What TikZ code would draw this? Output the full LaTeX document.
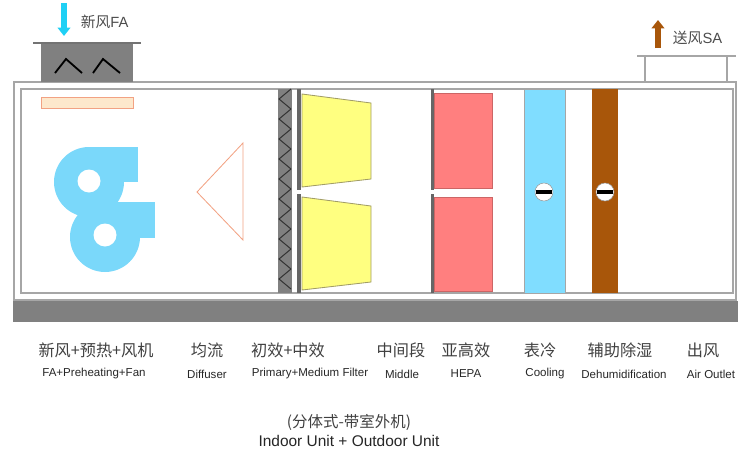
\documentclass[tikz,border=0pt]{standalone}
\usepackage{fontspec}
\setmainfont{Liberation Sans}
\newfontfamily\cjk{Noto Sans CJK SC}
\usepackage{tikz}
\usetikzlibrary{arrows.meta}

\definecolor{framegray}{HTML}{A6A6A6}
\definecolor{basegray}{HTML}{808080}
\definecolor{fancyan}{HTML}{7AD8FA}
\definecolor{arrowcyan}{HTML}{1FD0F5}
\definecolor{heatpad}{HTML}{FDE8CC}
\definecolor{heatline}{HTML}{F2A283}
\definecolor{filteryellow}{HTML}{FFFF80}
\definecolor{hepared}{HTML}{FF7F7F}
\definecolor{coolblue}{HTML}{80DDFF}
\definecolor{dehubrown}{HTML}{A8560A}

\tikzset{
  cnlabel/.style={font=\cjk\fontsize{11.5}{13}\selectfont, text=black!75},
  enlabel/.style={font=\fontsize{8.2}{10}\selectfont, text=black!85},
  valvesign/.style={fill=white, draw=black!40, line width=0.4pt},
}

\begin{document}
\begin{tikzpicture}[x=0.025cm, y=-0.025cm]
		\useasboundingbox (0,0) rectangle (738,454);
		% casing and base
		\draw [framegray, line width=0.8pt] (14,82) rectangle (736,300);
		\draw [framegray, line width=0.8pt] (21,89) rectangle (733,293);
		\fill [basegray] (13,301) rectangle (738,322);
		
		% fresh air hood
		\fill [basegray] (41,43) rectangle (133,82);
		\draw [black!55, line width=1.2pt] (33,43) -- (141,43);
		\draw [line width=1.3pt] (55,73) -- (66,59) -- (82,73);
		\draw [line width=1.3pt] (93,73) -- (103,59) -- (120,73);
		\draw [arrowcyan, line width=4.2pt, -{Triangle[width=9pt, length=6pt]}] (64,3) -- (64,36);
		\node (fa) [anchor=west, font=\cjk\fontsize{10.5}{12}\selectfont, text=black!70] at (76,22) {新风{\fontspec{Liberation Sans}FA}};
		
		% supply air outlet
		\draw [framegray, line width=1.2pt] (637,56) -- (736,56);
		\draw [framegray, line width=0.8pt] (645,56) -- (645,82);
		\draw [framegray, line width=0.8pt] (727,56) -- (727,82);
		\draw [dehubrown, line width=4.2pt, -{Triangle[width=9pt, length=6pt]}] (658,48) -- (658,20);
		\node (sa) [anchor=west, font=\cjk\fontsize{10.5}{12}\selectfont, text=black!70] at (668,38) {送风{\fontspec{Liberation Sans}SA}};
		
		% preheater and fans
		\draw [heatline, fill=heatpad, line width=0.7pt] (41,97) rectangle (133,108);
		\fill [fancyan] (89,182) circle (35);
		\fill [fancyan] (89,147) rectangle (138,182);
		\fill [fancyan] (105,237) circle (35);
		\fill [fancyan] (105,202) rectangle (155,238);
		\fill [white] (89,181) circle (11.5);
		\fill [white] (105,235) circle (11.5);
		
		% diffuser
		\draw [heatline, line width=0.6pt] (243,143) -- (243,240) -- (197,192) -- cycle;
		
		% primary filter
		\fill [basegray] (278,89) rectangle (292,293);
		\foreach \y in {89,109,...,269}
		\draw [black!80, line width=0.7pt] (291,\y) -- (279,\y+10) -- (291,\y+20);
		\fill [black!60] (297,89) rectangle (301,190);
		\fill [black!60] (297,194) rectangle (301,293);
		
		% medium filter bags
		\draw [black!40!olive!60, fill=filteryellow, line width=0.6pt] (302,94) -- (371,103) -- (371,179) -- (302,187) -- cycle;
		\draw [black!40!olive!60, fill=filteryellow, line width=0.6pt] (302,197) -- (371,206) -- (371,282) -- (302,290) -- cycle;
		
		% middle section and HEPA
		\fill [black!60] (431,89) rectangle (434,190);
		\fill [black!60] (431,194) rectangle (434,293);
		\draw [hepared!80!black, fill=hepared, line width=0.4pt] (434,93) rectangle (492,188);
		\draw [hepared!80!black, fill=hepared, line width=0.4pt] (434,197) rectangle (492,291);
		
		% cooling coil
		\draw [black!35, fill=coolblue, line width=0.4pt] (524,89) rectangle (565,293);
		\draw [valvesign] (544,192) circle (9);
		\draw [line width=2.4pt] (536,192) -- (552,192);
		
		% dehumidification coil
		\fill [dehubrown] (592,89) rectangle (618,293);
		\draw [valvesign] (605,192) circle (9);
		\draw [line width=2.4pt] (597,192) -- (613,192);
		
		% section labels
		\node (l1) [cnlabel] at (96,350) {新风+预热+风机};
		\node (l2) [cnlabel] at (207,350) {均流};
		\node (l3) [cnlabel] at (288,350) {初效+中效};
		\node (l4) [cnlabel] at (401,350) {中间段};
		\node (l5) [cnlabel] at (466,350) {亚高效};
		\node (l6) [cnlabel] at (540,350) {表冷};
		\node (l7) [cnlabel] at (620,350) {辅助除湿};
		\node (l8) [cnlabel] at (703,350) {出风};
		
		\node (e1) [enlabel] at (94,374) {FA+Preheating+Fan};
		\node (e2) [enlabel] at (207,374) {Diffuser};
		\node (e3) [enlabel] at (310,374) {Primary+Medium Filter};
		\node (e4) [enlabel] at (402,374) {Middle};
		\node (e5) [enlabel] at (466,374) {HEPA};
		\node (e6) [enlabel] at (545,374) {Cooling};
		\node (e7) [enlabel] at (624,374) {Dehumidification};
		\node (e8) [enlabel] at (711,374) {Air Outlet};
		
		% unit type
		\node (type) [font=\cjk\fontsize{11}{13}\selectfont, text=black!75] at (349,422) {(分体式-带室外机)};
		\node (typeen) [font=\fontsize{11}{13}\selectfont, text=black!85] at (349,441) {Indoor Unit + Outdoor Unit};
\end{tikzpicture}
\end{document}
